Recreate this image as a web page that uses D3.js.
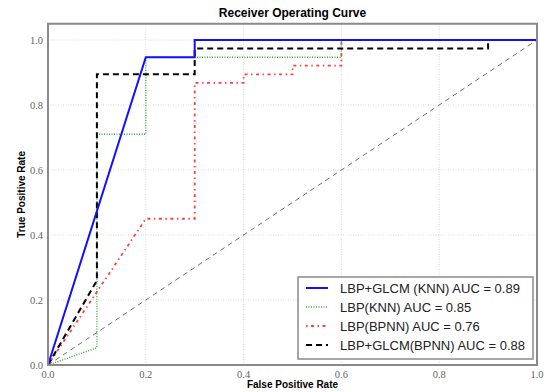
<!DOCTYPE html>
<html>
<head>
<meta charset="utf-8">
<script src="https://cdn.jsdelivr.net/npm/d3@7"></script>
<style>
  body { margin: 0; background: #fff; }
  svg { display: block; }
</style>
</head>
<body>
<div id="chart"></div>
<script>
// ROC curve points (false positive rate, true positive rate)
const knnFusionFpr = [0, 0.2, 0.3, 0.3, 1.0];
const knnFusionTpr = [0, 0.947, 0.947, 1.0, 1.0];

const knnLbpFpr = [0, 0.1, 0.1, 0.2, 0.2, 0.6, 0.6, 1.0];
const knnLbpTpr = [0, 0.053, 0.71, 0.71, 0.947, 0.947, 1.0, 1.0];

const bpnnLbpFpr = [0, 0.1, 0.2, 0.3, 0.3, 0.4, 0.4, 0.5, 0.5, 0.6, 0.6, 1.0];
const bpnnLbpTpr = [0, 0.225, 0.45, 0.45, 0.868, 0.868, 0.894, 0.894, 0.921, 0.921, 1.0, 1.0];

const bpnnFusionFpr = [0, 0.1, 0.1, 0.3, 0.3, 0.9, 0.9, 1.0];
const bpnnFusionTpr = [0, 0.26, 0.895, 0.895, 0.974, 0.974, 1.0, 1.0];

const chanceFpr = [0, 1];
const chanceTpr = [0, 1];

const seriesLabels = [
  'LBP+GLCM (KNN) AUC = 0.89',
  'LBP(KNN) AUC = 0.85',
  'LBP(BPNN) AUC = 0.76',
  'LBP+GLCM(BPNN) AUC = 0.88'
];

const xTicks = [0.0, 0.2, 0.4, 0.6, 0.8, 1.0];
const yTicks = [0.0, 0.2, 0.4, 0.6, 0.8, 1.0];

const width = 551;
const height = 392;
const margin = { top: 23.75, right: 14, bottom: 27, left: 48 };

const svg = d3.select('#chart')
  .append('svg')
  .attr('width', width)
  .attr('height', height);

const x = d3.scaleLinear().domain([0, 1]).range([margin.left, width - margin.right]);
const y = d3.scaleLinear().domain([0, 1.05]).range([height - margin.bottom, margin.top]);

const toPoints = (xs, ys) => xs.map((v, i) => [v, ys[i]]);

// grid
svg.append('g')
  .selectAll('line')
  .data(xTicks.slice(1, -1))
  .enter()
  .append('line')
  .attr('x1', d => x(d)).attr('x2', d => x(d))
  .attr('y1', y(0)).attr('y2', y(1.05))
  .attr('stroke', '#cfcfcf')
  .attr('stroke-width', 0.8)
  .attr('stroke-dasharray', '1,1.5');

svg.append('g')
  .selectAll('line')
  .data(yTicks.slice(1))
  .enter()
  .append('line')
  .attr('x1', x(0)).attr('x2', x(1))
  .attr('y1', d => y(d)).attr('y2', d => y(d))
  .attr('stroke', '#cfcfcf')
  .attr('stroke-width', 0.8)
  .attr('stroke-dasharray', '1,1.5');

const line = d3.line().x(d => x(d[0])).y(d => y(d[1]));

const series = [
  { pts: toPoints(chanceFpr, chanceTpr), color: '#707070', width: 1, dash: '5,4' },
  { pts: toPoints(bpnnLbpFpr, bpnnLbpTpr), color: '#ff4040', width: 1.8, dash: '1.5,3.5,3,3.5' },
  { pts: toPoints(knnLbpFpr, knnLbpTpr), color: '#3aaa3a', width: 1.3, dash: '1,1.5' },
  { pts: toPoints(bpnnFusionFpr, bpnnFusionTpr), color: '#000', width: 2, dash: '6,4' },
  { pts: toPoints(knnFusionFpr, knnFusionTpr), color: '#1010ff', width: 2, dash: null }
];

svg.append('g')
  .selectAll('path')
  .data(series)
  .enter()
  .append('path')
  .attr('d', d => line(d.pts))
  .attr('fill', 'none')
  .attr('stroke', d => d.color)
  .attr('stroke-width', d => d.width)
  .attr('stroke-dasharray', d => d.dash);

// frame
svg.append('rect')
  .attr('x', x(0)).attr('y', y(1.05))
  .attr('width', x(1) - x(0)).attr('height', y(0) - y(1.05))
  .attr('fill', 'none')
  .attr('stroke', '#8a8a8a')
  .attr('stroke-width', 2);

// tick labels
const tickFont = "'Liberation Serif', 'DejaVu Serif', serif";
svg.append('g')
  .selectAll('text')
  .data(xTicks)
  .enter()
  .append('text')
  .attr('x', d => x(d))
  .attr('y', y(0) + 13)
  .attr('text-anchor', 'middle')
  .style('font-family', tickFont)
  .style('font-size', '10.5px')
  .style('fill', '#666')
  .text(d => d.toFixed(1));

svg.append('g')
  .selectAll('text')
  .data(yTicks)
  .enter()
  .append('text')
  .attr('x', x(0) - 5)
  .attr('y', d => y(d) + 3.5)
  .attr('text-anchor', 'end')
  .style('font-family', tickFont)
  .style('font-size', '10.5px')
  .style('fill', '#666')
  .text(d => d.toFixed(1));

// title and axis labels
const sans = "'Liberation Sans', Arial, sans-serif";
svg.append('text')
  .attr('x', (x(0) + x(1)) / 2)
  .attr('y', 17)
  .attr('text-anchor', 'middle')
  .style('font-family', sans)
  .style('font-size', '12px')
  .style('font-weight', 'bold')
  .text('Receiver Operating Curve');

svg.append('text')
  .attr('x', (x(0) + x(1)) / 2)
  .attr('y', 388)
  .attr('text-anchor', 'middle')
  .style('font-family', sans)
  .style('font-size', '10px')
  .style('font-weight', 'bold')
  .text('False Positive Rate');

svg.append('text')
  .attr('transform', `translate(25, ${(y(0) + y(1.05)) / 2}) rotate(-90)`)
  .attr('text-anchor', 'middle')
  .style('font-family', sans)
  .style('font-size', '10px')
  .style('font-weight', 'bold')
  .text('True Positive Rate');

// legend
const legendStyles = [series[4], series[2], series[1], series[3]];
const legend = svg.append('g').attr('transform', 'translate(298, 277)');
legend.append('rect')
  .attr('width', 235).attr('height', 82)
  .attr('fill', '#fff')
  .attr('stroke', '#8a8a8a')
  .attr('stroke-width', 1.5);

const item = legend.selectAll('.item')
  .data(seriesLabels)
  .enter()
  .append('g')
  .attr('class', 'item')
  .attr('transform', (d, i) => `translate(0, ${11 + i * 19})`);

item.append('line')
  .attr('x1', 8).attr('x2', 30)
  .attr('y1', 0).attr('y2', 0)
  .attr('stroke', (d, i) => legendStyles[i].color)
  .attr('stroke-width', (d, i) => legendStyles[i].width)
  .attr('stroke-dasharray', (d, i) => legendStyles[i].dash);

item.append('text')
  .attr('x', 42)
  .attr('y', 4.5)
  .style('font-family', sans)
  .style('font-size', '13px')
  .style('fill', '#222')
  .text(d => d);
</script>
</body>
</html>
